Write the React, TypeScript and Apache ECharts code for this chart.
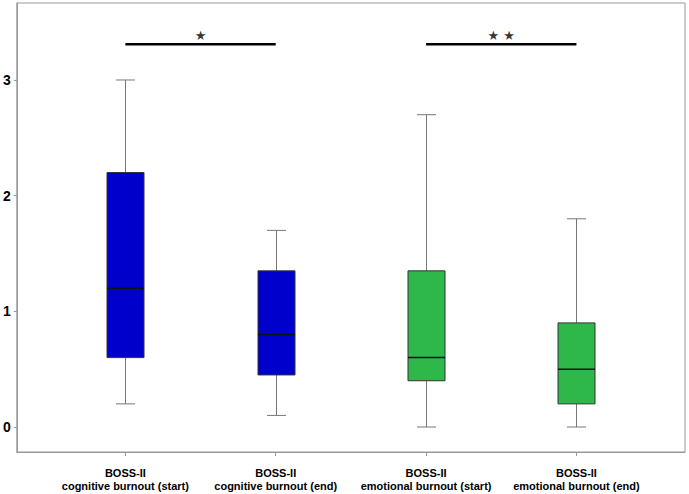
import React, { useEffect, useRef } from "react";
import * as echarts from "echarts";

const categories = [
  "BOSS-II\ncognitive burnout (start)",
  "BOSS-II\ncognitive burnout (end)",
  "BOSS-II\nemotional burnout (start)",
  "BOSS-II\nemotional burnout (end)",
];
const whiskerLow = [0.2, 0.1, 0.0, 0.0];
const quartile1 = [0.6, 0.45, 0.4, 0.2];
const medians = [1.2, 0.8, 0.6, 0.5];
const quartile3 = [2.2, 1.35, 1.35, 0.9];
const whiskerHigh = [3.0, 1.7, 2.7, 1.8];
const boxColors = ["#0000CC", "#0000CC", "#2EB84A", "#2EB84A"];
const yTicks = [0, 1, 2, 3];
const brackets = [
  { from: 1, to: 2, level: 3.31, mark: "★" },
  { from: 3, to: 4, level: 3.31, mark: "★ ★" },
];

const FONT = "'Liberation Sans', Arial, Helvetica, sans-serif";

export default function App() {
  const ref = useRef<HTMLDivElement>(null);
  useEffect(() => {
    if (!ref.current) return;
    const chart = echarts.init(ref.current, undefined, { renderer: "svg" });
    const xPositions = categories.map((_, i) => i + 1);
    const boxData = categories.map((_, i) => [
      i + 1,
      whiskerLow[i],
      quartile1[i],
      medians[i],
      quartile3[i],
      whiskerHigh[i],
      i,
    ]);
    const boxW = 37;
    const capHalf = 9.5;
    const renderItem = (params: any, api: any) => {
      const x = api.value(0);
      const ci = api.value(6);
      const pLow = api.coord([x, api.value(1)]);
      const pQ1 = api.coord([x, api.value(2)]);
      const pMed = api.coord([x, api.value(3)]);
      const pQ3 = api.coord([x, api.value(4)]);
      const pHigh = api.coord([x, api.value(5)]);
      const cx = Math.round(pLow[0]) + 0.5;
      const whiskerStyle = { stroke: "#777", lineWidth: 1 };
      return {
        type: "group",
        children: [
          { type: "line", shape: { x1: cx, y1: pQ3[1], x2: cx, y2: pHigh[1] }, style: whiskerStyle },
          { type: "line", shape: { x1: cx, y1: pQ1[1], x2: cx, y2: pLow[1] }, style: whiskerStyle },
          { type: "line", shape: { x1: cx - capHalf, y1: pHigh[1], x2: cx + capHalf, y2: pHigh[1] }, style: whiskerStyle },
          { type: "line", shape: { x1: cx - capHalf, y1: pLow[1], x2: cx + capHalf, y2: pLow[1] }, style: whiskerStyle },
          {
            type: "rect",
            shape: { x: cx - boxW / 2, y: pQ3[1], width: boxW, height: pQ1[1] - pQ3[1] },
            style: { fill: boxColors[ci], stroke: "#333", lineWidth: 1 },
          },
          {
            type: "line",
            shape: { x1: cx - boxW / 2, y1: pMed[1], x2: cx + boxW / 2, y2: pMed[1] },
            style: { stroke: "#111", lineWidth: 1.5 },
          },
        ],
      };
    };

    const series: any[] = [
      {
        type: "custom",
        renderItem,
        data: boxData,
        encode: { x: 0, y: [1, 2, 3, 4, 5] },
        silent: true,
      },
    ];
    brackets.forEach((b) => {
      series.push({
        type: "line",
        data: [
          [b.from, b.level],
          [b.to, b.level],
        ],
        showSymbol: false,
        symbol: "none",
        lineStyle: { color: "#000", width: 2.5 },
        silent: true,
      });
      series.push({
        type: "scatter",
        data: [[(b.from + b.to) / 2, b.level + 0.078]],
        symbolSize: 0,
        label: {
          show: true,
          position: "inside",
          formatter: b.mark,
          color: "#000",
          textBorderWidth: 0,
          textBorderColor: "transparent",
          fontSize: 13,
          fontFamily: "'DejaVu Sans', sans-serif",
        },
        silent: true,
      });
    });

    chart.setOption({
      animation: false,
      grid: {
        left: 16,
        right: 4,
        top: 3,
        bottom: 42,
        show: true,
        borderColor: "#999",
        borderWidth: 1,
        backgroundColor: "#fff",
      },
      xAxis: {
        type: "value",
        min: 0.278,
        max: 4.722,
        axisLine: { show: true, onZero: false, lineStyle: { color: "#999" } },
        axisTick: { show: true, customValues: xPositions, length: 4, lineStyle: { color: "#999" } },
        splitLine: { show: false },
        axisLabel: {
          customValues: xPositions,
          formatter: (v: number) => categories[Math.round(v) - 1] || "",
          fontFamily: FONT,
          fontWeight: "bold",
          fontSize: 11,
          lineHeight: 13,
          color: "#000",
          margin: 14,
        },
      },
      yAxis: {
        type: "value",
        min: -0.2161,
        max: 3.6656,
        axisLine: { show: true, onZero: false, lineStyle: { color: "#999" } },
        axisTick: { show: true, customValues: yTicks, length: 3, lineStyle: { color: "#999" } },
        splitLine: { show: false },
        axisLabel: {
          customValues: yTicks,
          fontFamily: FONT,
          fontWeight: "bold",
          fontSize: 14,
          color: "#000",
          margin: 6,
        },
      },
      series,
    });
    return () => chart.dispose();
  }, []);
  return (
    <div
      ref={ref}
      style={{ position: "fixed", left: 0, top: 0, width: 689, height: 494, background: "#fff" }}
    />
  );
}
